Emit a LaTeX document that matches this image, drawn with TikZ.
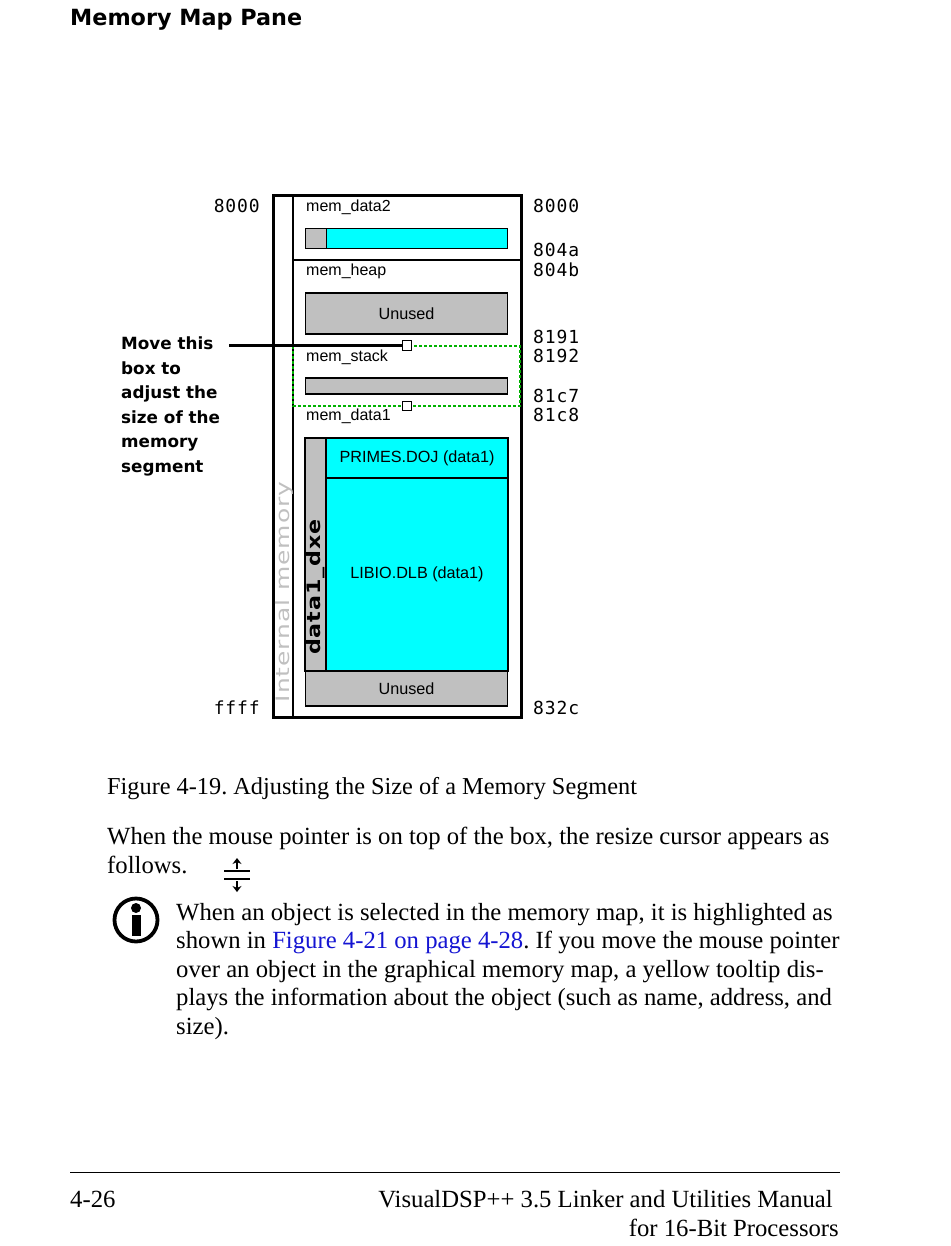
\documentclass[tikz,border=0pt]{standalone}
\usepackage{fontspec}
\setmainfont{Liberation Serif}
\newfontfamily\headfont{DejaVu Sans}
\newfontfamily\widefont[FakeStretch=1.2,LetterSpace=5]{DejaVu Sans}
\newfontfamily\widerfont[FakeStretch=1.35,LetterSpace=5]{DejaVu Sans}
\newfontfamily\guifont{Liberation Sans}
\newfontfamily\addrfont[LetterSpace=5]{DejaVu Sans Mono}
\usepackage{xcolor}
\usetikzlibrary{arrows.meta,calc,positioning}
\definecolor{memcyan}{RGB}{0,255,255}
\definecolor{memgray}{RGB}{192,192,192}
\definecolor{linkblue}{RGB}{20,20,210}
\frenchspacing

\begin{document}
\begin{tikzpicture}[x=1pt,y=-1pt,
  bodytext/.style={inner sep=0pt,align=left,anchor=north west,font=\fontsize{24.7}{28.5}\selectfont},
  addr/.style={inner sep=0pt,font=\addrfont\fontsize{18}{18}\selectfont},
  seglabel/.style={inner sep=0pt,anchor=west,font=\guifont\fontsize{16}{16}\selectfont},
  membox/.style={draw,line width=1.2pt,inner sep=0pt,fill=#1,font=\guifont\fontsize{16.2}{16.2}\selectfont},
  membox/.default=memgray,
  handlebox/.style={draw,line width=1.4pt,fill=white,inner sep=0pt,minimum size=9.5pt}]
  \useasboundingbox (0,0) rectangle (950,1246);
  \node[inner sep=0pt,anchor=west,font=\headfont\bfseries\fontsize{22.3}{22.3}\selectfont] (title) at (70,20) {Memory Map Pane};
  % memory map frame
  \draw[line width=1.4pt] (293,196) -- (293,717);
  \draw[line width=1.4pt] (293,260) -- (521,260);
  \node[membox,minimum width=202.5pt,minimum height=41pt] (unusedheap) at (406.5,313.5) {Unused};
  \node[membox=memcyan,minimum width=202.5pt,minimum height=20.5pt] (bardata) at (406.5,238.5) {};
  \node[membox,anchor=west,minimum width=21pt,minimum height=20.5pt] (bargray) at (bardata.west) {};
  \node[membox,minimum width=202.5pt,minimum height=16pt] (barstack) at (406.5,386) {};
  \node[membox,minimum width=21pt,minimum height=233pt] (dxe) at (315.5,554.5) {};
  \node[membox=memcyan,minimum width=182pt,minimum height=40pt] (primes) at (417,458) {PRIMES.DOJ (data1)};
  \node[membox=memcyan,minimum width=182pt,minimum height=193pt] (libio) at (417,574.5) {LIBIO.DLB (data1)};
  \node[membox,minimum width=202.5pt,minimum height=35pt] (unuseddata) at (406.5,688.5) {Unused};
  \draw[line width=3pt] (273,196) rectangle (521,717);
  % resizable segment
  \draw[green!70!black,line width=1.2pt,densely dashed] (293,346) rectangle (520,406);
  \node[handlebox] (handletop) at (407,345.5) {};
  \node[handlebox] (handlebot) at (407,406) {};
  \coordinate (leader) at (229,345.5);
  \draw[line width=2.8pt] (leader) -- (handletop);
  % segment names
  \node[seglabel] (data2) at (306,207) {mem\_data2};
  \node[seglabel] (heap) at (306,271.5) {mem\_heap};
  \node[seglabel] (stack) at (306,357) {mem\_stack};
  \node[seglabel] (data1) at (306,416) {mem\_data1};
  \node[inner sep=0pt,rotate=90,text=memgray,font=\widerfont\fontsize{18.5}{18.5}\selectfont] (internal) at (284,592) {Internal memory};
  \node[inner sep=0pt,rotate=90,font=\widefont\bfseries\fontsize{18.5}{18.5}\selectfont] (dxename) at (315.5,587) {data1\_dxe};
  % addresses
  \node[addr,anchor=east] (lefttop) at (260,205.5) {8000};
  \node[addr,anchor=east] (leftbot) at (260,708) {ffff};
  \foreach \y/\txt in {205.5/8000,250/804a,270/804b,336.5/8191,355.5/8192,395.5/81c7,415/81c8,708/832c}
    \node[addr,anchor=west] (addr\txt) at (533,\y) {\txt};
  \node[inner sep=0pt,anchor=north west,align=left,font=\headfont\bfseries\fontsize{16.8}{24.6}\selectfont] (movenote) at (121,336.5) {Move this\\box to\\adjust the\\size of the\\memory\\segment};
  % page text
  \node[bodytext] (caption) at (107,777) {\fontsize{24.3}{28.5}\selectfont Figure 4-19. Adjusting the Size of a Memory Segment};
  \node[bodytext] (para) at (107,827) {When the mouse pointer is on top of the box, the resize cursor appears as\\follows.};
  \node[bodytext] (note) at (176,903) {When an object is selected in the memory map, it is highlighted as\\shown in \textcolor{linkblue}{Figure 4-21 on page 4-28}. If you move the mouse pointer\\over an object in the graphical memory map, a yellow tooltip dis-\\plays the information about the object (such as name, address, and\\size).};
  % cursor glyph
  \coordinate (cursorup) at (237,858);
  \coordinate (cursordown) at (237,892);
  \draw[line width=2.4pt] (224,871) -- (250,871) (224,879) -- (250,879);
  \draw[line width=2pt,-{Stealth[length=6pt,width=9pt]}] (237,869) -- (cursorup);
  \draw[line width=2pt,-{Stealth[length=6pt,width=9pt]}] (237,881) -- (cursordown);
  % info icon
  \draw[line width=3.8pt] (136,920) circle (21.5);
  \fill (136,908) circle (5);
  \fill (131.5,915) rectangle (140.5,936);
  % footer
  \draw[line width=1pt] (70,1172) -- (840,1172);
  \node[bodytext,anchor=base west] (pageno) at (70,1207) {4-26};
  \node[bodytext,anchor=base east] (manual) at (833,1207) {VisualDSP++ 3.5 Linker and Utilities Manual};
  \node[bodytext,anchor=base east] (procs) at (839,1236) {for 16-Bit Processors};
\end{tikzpicture}
\end{document}
